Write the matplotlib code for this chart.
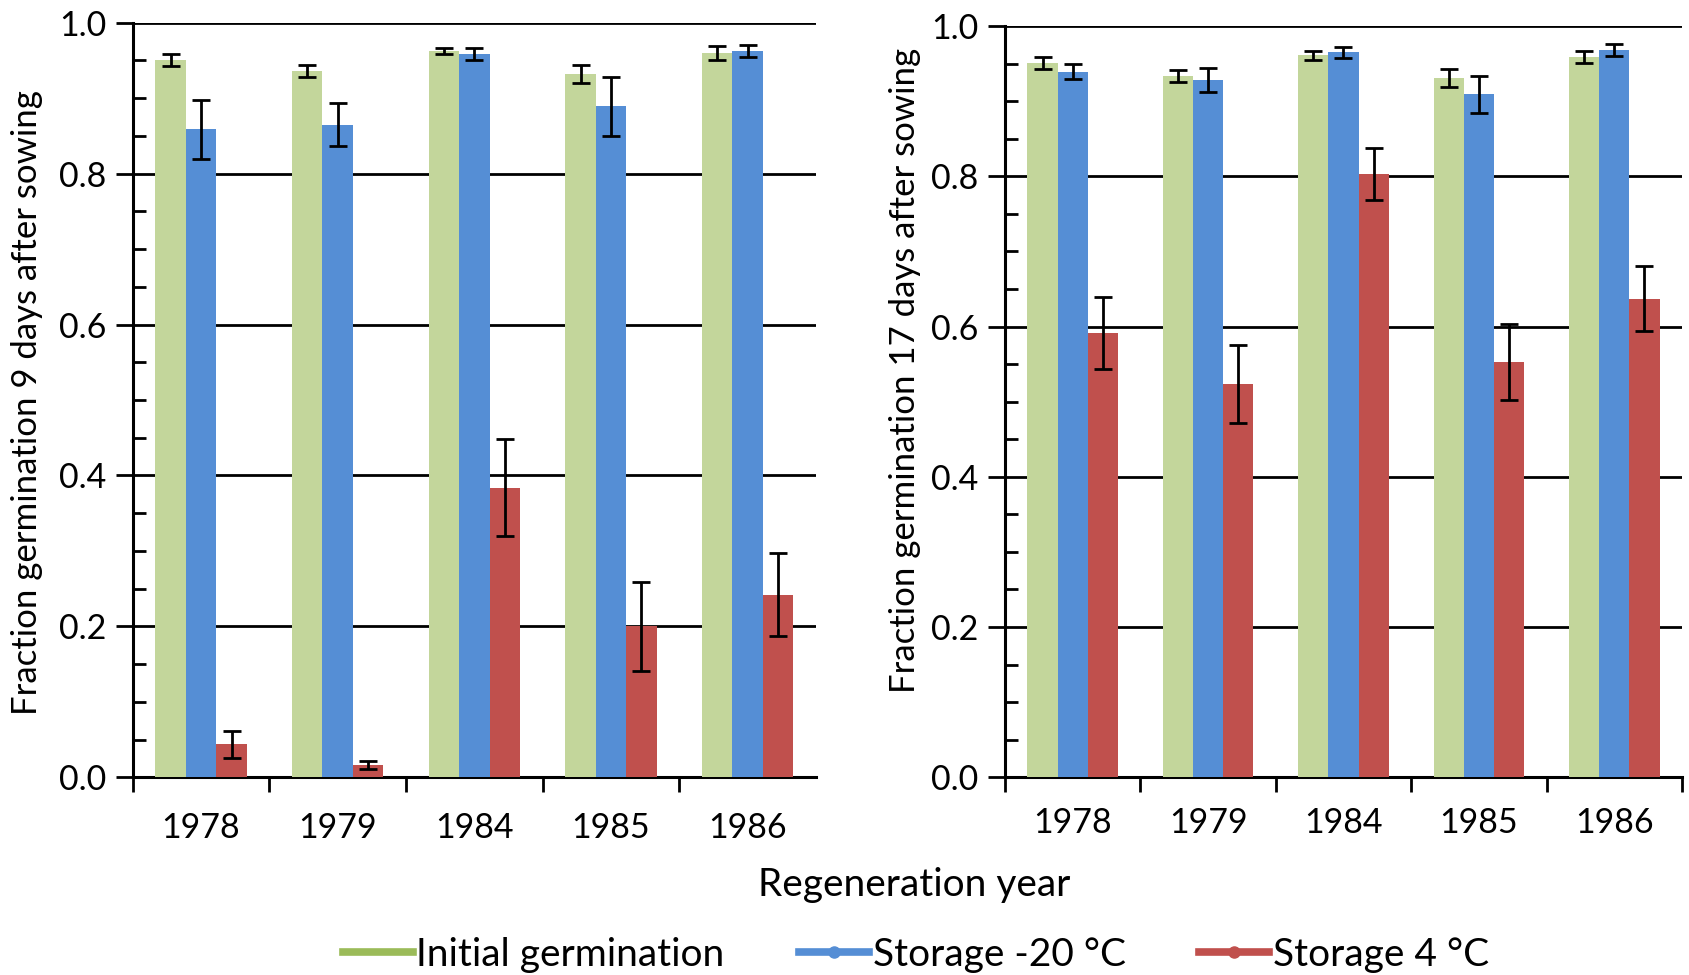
import matplotlib
matplotlib.use("Agg")
import matplotlib.pyplot as plt
import numpy as np
from matplotlib.lines import Line2D
from matplotlib.ticker import MultipleLocator, FixedLocator, FormatStrFormatter

plt.rcParams['font.family'] = ['Lato', 'DejaVu Sans']

years = ['1978', '1979', '1984', '1985', '1986']
series_names = ['Initial germination', 'Storage -20 °C', 'Storage 4 °C']

# 9 days after sowing
init_9 = [0.951, 0.936, 0.962, 0.932, 0.960]
init_9_err = [0.008, 0.008, 0.004, 0.0115, 0.009]
m20_9 = [0.859, 0.865, 0.959, 0.889, 0.963]
m20_9_err = [0.039, 0.028, 0.008, 0.039, 0.008]
p4_9 = [0.044, 0.016, 0.384, 0.200, 0.242]
p4_9_err = [0.018, 0.005, 0.064, 0.059, 0.055]

# 17 days after sowing
init_17 = [0.951, 0.933, 0.961, 0.931, 0.959]
init_17_err = [0.008, 0.008, 0.006, 0.012, 0.008]
m20_17 = [0.939, 0.928, 0.965, 0.909, 0.968]
m20_17_err = [0.010, 0.016, 0.0075, 0.025, 0.0075]
p4_17 = [0.591, 0.523, 0.803, 0.553, 0.637]
p4_17_err = [0.048, 0.052, 0.035, 0.051, 0.043]

bar_colors = ['#C3D69B', '#558ED5', '#C0504D']
legend_colors = ['#9BBB59', '#558ED5', '#C0504D']

W, H = 1690, 975
fig = plt.figure(figsize=(W / 100, H / 100), dpi=100)

ax1 = fig.add_axes([132.7 / W, 1 - 777.3 / H, (816 - 132.7) / W, (777.3 - 22.7) / H])
ax2 = fig.add_axes([1005 / W, 1 - 777.3 / H, (1682 - 1005) / W, (777.3 - 26) / H])


def draw(ax, vals, errs, last_tick, label_pad):
    n = len(years)
    x = np.arange(n) + 0.5
    bw = 0.223
    for i, (v, e) in enumerate(zip(vals, errs)):
        ax.bar(x + (i - 1) * bw, v, width=bw, color=bar_colors[i], zorder=3,
               yerr=e, error_kw=dict(ecolor='black', elinewidth=2.0, capsize=6.5,
                                     capthick=2.0, zorder=4))
    ax.set_xlim(0, n)
    ax.set_ylim(0, 1.0)
    for s in ['top', 'right']:
        ax.spines[s].set_visible(False)
    for s in ['left', 'bottom']:
        ax.spines[s].set_linewidth(2.2)
        ax.spines[s].set_color('black')
    ax.yaxis.set_major_locator(MultipleLocator(0.2))
    ax.yaxis.set_major_formatter(FormatStrFormatter('%.1f'))
    ax.yaxis.set_minor_locator(FixedLocator([k * 0.05 for k in range(21) if k % 4 != 0]))
    ax.grid(axis='y', which='major', color='black', linewidth=2.0, zorder=1)
    ax.set_axisbelow(True)
    ax.tick_params(axis='y', which='major', direction='out', length=12, width=2.0,
                   labelsize=24.5, pad=7)
    ax.tick_params(axis='y', which='minor', direction='in', length=9, width=2.0)
    bt = list(range(n + 1)) if last_tick else list(range(n))
    ax.xaxis.set_major_locator(FixedLocator(bt))
    ax.xaxis.set_minor_locator(FixedLocator(list(x)))
    ax.set_xticklabels([''] * len(bt))
    ax.set_xticklabels(years, minor=True)
    ax.tick_params(axis='x', which='major', direction='out', length=11, width=2.0)
    ax.tick_params(axis='x', which='minor', length=0, labelsize=24.5, pad=label_pad)


draw(ax1, [init_9, m20_9, p4_9], [init_9_err, m20_9_err, p4_9_err], False, 25)
draw(ax2, [init_17, m20_17, p4_17], [init_17_err, m20_17_err, p4_17_err], True, 21.5)

fig.text(27 / W, 1 - 402.6 / H, 'Fraction germination 9 days after sowing',
         rotation=90, ha='center', va='center', fontsize=25)
fig.text(905 / W, 1 - 370.7 / H, 'Fraction germination 17 days after sowing',
         rotation=90, ha='center', va='center', fontsize=25)
fig.text(914 / W, 1 - 885 / H, 'Regeneration year', ha='center', va='center', fontsize=28)

handles = [
    Line2D([0], [0], color=legend_colors[0], linewidth=5.5),
    Line2D([0], [0], color=legend_colors[1], linewidth=5.5, marker='o', markersize=8),
    Line2D([0], [0], color=legend_colors[2], linewidth=5.5, marker='o', markersize=8),
]
fig.legend(handles, series_names, loc='center', bbox_to_anchor=(916 / W, 1 - 955 / H),
           ncol=3, frameon=False, fontsize=28, handlelength=1.8, handletextpad=0.1,
           columnspacing=1.9, borderpad=0)

fig.savefig('out.png', dpi=100)
